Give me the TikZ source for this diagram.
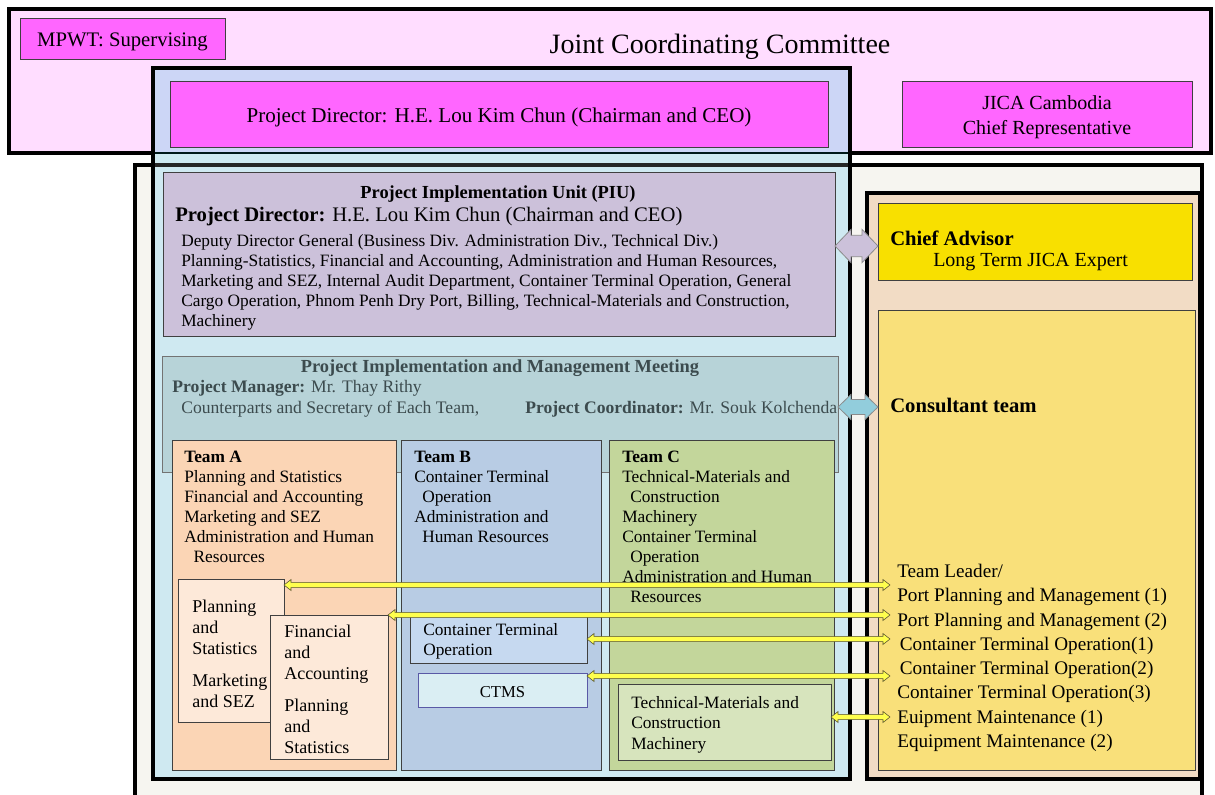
\documentclass[tikz,border=0pt]{standalone}
\usepackage{fontspec}
\setmainfont{Liberation Serif}
\usetikzlibrary{positioning,calc,fit}

\definecolor{jccpink}{RGB}{255,221,255}
\definecolor{magentabox}{RGB}{255,102,255}
\definecolor{pdblue}{RGB}{204,214,246}
\definecolor{pdcyan}{RGB}{207,233,241}
\definecolor{offwhite}{RGB}{246,245,240}
\definecolor{piulav}{RGB}{204,193,218}
\definecolor{pimmteal}{RGB}{183,211,216}
\definecolor{pimmtext}{RGB}{60,75,78}
\definecolor{teamA}{RGB}{251,213,181}
\definecolor{teamB}{RGB}{184,204,228}
\definecolor{teamC}{RGB}{195,214,155}
\definecolor{subA}{RGB}{253,233,217}
\definecolor{subB}{RGB}{198,217,240}
\definecolor{ctmsblue}{RGB}{218,238,243}
\definecolor{subC}{RGB}{215,228,189}
\definecolor{conspeach}{RGB}{242,220,197}
\definecolor{chiefyellow}{RGB}{248,224,0}
\definecolor{consgold}{RGB}{249,224,122}
\definecolor{linkyellow}{RGB}{255,255,77}
\definecolor{linkblue}{RGB}{146,205,220}

\newcommand{\areanode}[4]{\node [#1, fit={(#3) (#4)}, inner sep=0pt, outer sep=0pt] (#2) {}}
\newcommand{\tnode}[4][]{\node [txt,#1] (#2) at (#3) {#4}}
\newcommand{\linkarrow}[6]{\draw [#1] let \p1=(#2), \p2=(#3) in
  (\x1,\y1) -- (\x1+#6,\y1+#4) -- (\x1+#6,\y1+#5) -- (\x2-#6,\y1+#5)
  -- (\x2-#6,\y1+#4) -- (\x2,\y1) -- (\x2-#6,\y1-#4) -- (\x2-#6,\y1-#5)
  -- (\x1+#6,\y1-#5) -- (\x1+#6,\y1-#4) -- cycle}

\tikzset{
  frame/.style={draw=black, line width=2.3pt},
  panel/.style={draw=black!75, line width=0.7pt},
  txt/.style={inner sep=0pt, anchor=north west, align=left, font=\fontsize{13}{15}\selectfont},
  ylink/.style={fill=linkyellow, draw=black!55!olive, line width=0.4pt},
}

\begin{document}
\begin{tikzpicture}[x=0.75pt,y=-0.75pt]
\useasboundingbox (0,0) rectangle (1215,794);
\clip (0,0) rectangle (1215,794);

\areanode{frame, line width=2.6pt, fill=jccpink}{jcc}{9,9}{1211,153};
\areanode{panel, fill=magentabox}{mpwt}{20,18}{225,59};
\node [font=\fontsize{15.5}{18}\selectfont] (mpwt-t) at ($(mpwt.center)+(0,3)$) {MPWT: Supervising};
\node [font=\fontsize{21}{25}\selectfont] (jcc-t) at (720,47) {Joint Coordinating Committee};
\areanode{panel, fill=magentabox}{jica}{902,81}{1192,147};
\node [align=center, font=\fontsize{15}{18.75}\selectfont] (jica-t) at ($(jica.center)+(0,3)$) {JICA Cambodia\\Chief Representative};

\areanode{frame, fill=offwhite}{outer}{135,165}{1202,840};

\areanode{fill=pdcyan}{pd}{153,68}{850,779};
\fill [pdblue] (pd.north west) rectangle (pd.east |- jcc.south);
\draw [line width=2pt, black!80!teal] (pd.west |- jcc.south) -- (pd.east |- jcc.south);
\draw [line width=2.3pt, black!85] (pd.west |- outer.north) -- (pd.east |- outer.north);
\draw [frame] (pd.north west) rectangle (pd.south east);
\areanode{panel, fill=magentabox}{pdhead}{170,81}{828,147};
\node [font=\fontsize{15.8}{19}\selectfont] (pdhead-t) at ($(pdhead.center)+(0,3)$) {Project Director: H.E. Lou Kim Chun (Chairman and CEO)};

\areanode{panel, fill=piulav}{piu}{163,172}{835,336};
\node [font=\bfseries\fontsize{13.8}{16}\selectfont] (piu-t) at (498,194) {Project Implementation Unit (PIU)};
\node [inner sep=0pt, anchor=west, font=\fontsize{15.5}{18}\selectfont] (piu-d) at (175,217) {\textbf{Project Director:} H.E. Lou Kim Chun (Chairman and CEO)};
\tnode{piu-b}{181,234}{Deputy Director General (Business Div. Administration Div., Technical Div.)\\Planning-Statistics, Financial and Accounting, Administration and Human Resources,\\Marketing and SEZ, Internal Audit Department, Container Terminal Operation, General\\Cargo Operation, Phnom Penh Dry Port, Billing, Technical-Materials and Construction,\\Machinery};

\areanode{panel, draw=black!55, fill=pimmteal}{pimm}{162,356}{838,472};
\node [text=pimmtext, font=\bfseries\fontsize{13.8}{16}\selectfont] (pimm-t) at (500,368) {Project Implementation and Management Meeting};
\node [inner sep=0pt, anchor=west, text=pimmtext, font=\fontsize{13.2}{15}\selectfont] (pimm-m) at (172,388) {\textbf{Project Manager:} Mr. Thay Rithy};
\node [inner sep=0pt, anchor=west, text=pimmtext, font=\fontsize{13.2}{15}\selectfont] (pimm-s) at (181,409) {Counterparts and Secretary of Each Team,};
\node [inner sep=0pt, anchor=west, text=pimmtext, font=\fontsize{13.2}{15}\selectfont] (pimm-c) at (525,409) {\textbf{Project Coordinator:} Mr. Souk Kolchenda};

\areanode{panel, fill=teamA}{teamA}{172,440}{396,770};
\areanode{panel, fill=teamB}{teamB}{401,440}{601,770};
\areanode{panel, fill=teamC}{teamC}{609,440}{834,770};
\tnode{teamA-t}{184,451}{\textbf{Team A}\\Planning and Statistics\\Financial and Accounting\\Marketing and SEZ\\Administration and Human\\\hspace*{7pt}Resources};
\tnode{teamB-t}{414,451}{\textbf{Team B}\\Container Terminal\\\hspace*{6pt}Operation\\Administration and\\\hspace*{6pt}Human Resources};
\tnode{teamC-t}{622,451}{\textbf{Team C}\\Technical-Materials and\\\hspace*{6pt}Construction\\Machinery\\Container Terminal\\\hspace*{6pt}Operation\\Administration and Human\\\hspace*{6pt}Resources};

\areanode{panel, fill=subA}{subA1}{178,579}{284,722};
\tnode[font=\fontsize{13.5}{15.75}\selectfont]{subA1-t}{192,600}{Planning\\and\\Statistics\\[8pt]Marketing\\and SEZ};
\areanode{panel, fill=subA}{subA2}{270,615}{388,759};
\tnode[font=\fontsize{13.5}{15.75}\selectfont]{subA2-t}{284,625}{Financial\\and\\Accounting\\[8pt]Planning\\and\\Statistics};
\areanode{panel, fill=subB}{subB1}{410,615}{587,663};
\tnode{subB1-t}{423,623}{Container Terminal\\Operation};
\areanode{panel, draw=blue!30!gray, fill=ctmsblue}{ctms}{418,673}{587,707};
\node [font=\fontsize{12.5}{15}\selectfont] (ctms-t) at ($(ctms.center)+(0,2)$) {CTMS};
\areanode{panel, fill=subC}{subC1}{618,684}{831,760};
\tnode[font=\fontsize{13}{15.4}\selectfont]{subC1-t}{631,696}{Technical-Materials and\\Construction\\Machinery};

\areanode{frame, fill=conspeach}{cons}{867,193}{1200,779};
\areanode{panel, fill=chiefyellow}{chief}{878,203}{1192,280};
\node [inner sep=0pt, anchor=west, font=\bfseries\fontsize{15.5}{18}\selectfont] (chief-t) at (890,238) {Chief Advisor};
\node [inner sep=0pt, anchor=west, font=\fontsize{15}{18}\selectfont] (chief-s) at (933,262) {Long Term JICA Expert};
\areanode{panel, fill=consgold}{cteam}{878,310}{1195,770};
\node [inner sep=0pt, anchor=west, font=\bfseries\fontsize{15.5}{18}\selectfont] (cteam-t) at (890,405) {Consultant team};
\tnode[font=\fontsize{14.4}{18.2}\selectfont]{cteam-l}{897,564}{Team Leader/\\Port Planning and Management (1)\\Port Planning and Management (2)\\\hspace*{2pt}Container Terminal Operation(1)\\\hspace*{2pt}Container Terminal Operation(2)\\Container Terminal Operation(3)\\Euipment Maintenance (1)\\Equipment Maintenance (2)};

\coordinate (piu-link) at (878,246);
\coordinate (pimm-link) at (878,407);
\linkarrow{fill=piulav, draw=black!45, line width=0.6pt}{piu.east |- piu-link}{chief.west |- piu-link}{12.5pt}{8pt}{12pt};
\linkarrow{fill=linkblue, draw=black!45, line width=0.6pt}{pimm.east |- pimm-link}{cteam.west |- pimm-link}{9.4pt}{5.6pt}{9.75pt};

\coordinate (l1) at (890,585);
\coordinate (l2) at (890,615);
\coordinate (l3) at (890,639);
\coordinate (l4) at (890,676);
\coordinate (l5) at (890,717);
\linkarrow{ylink}{subA1.east |- l1}{l1}{4.1pt}{1.9pt}{5.25pt};
\linkarrow{ylink}{subA2.east |- l2}{l2}{4.1pt}{1.9pt}{5.25pt};
\linkarrow{ylink}{subB1.east |- l3}{l3}{4.1pt}{1.9pt}{5.25pt};
\linkarrow{ylink}{ctms.east |- l4}{l4}{4.1pt}{1.9pt}{5.25pt};
\linkarrow{ylink}{subC1.east |- l5}{l5}{4.1pt}{1.9pt}{5.25pt};

\end{tikzpicture}
\end{document}
